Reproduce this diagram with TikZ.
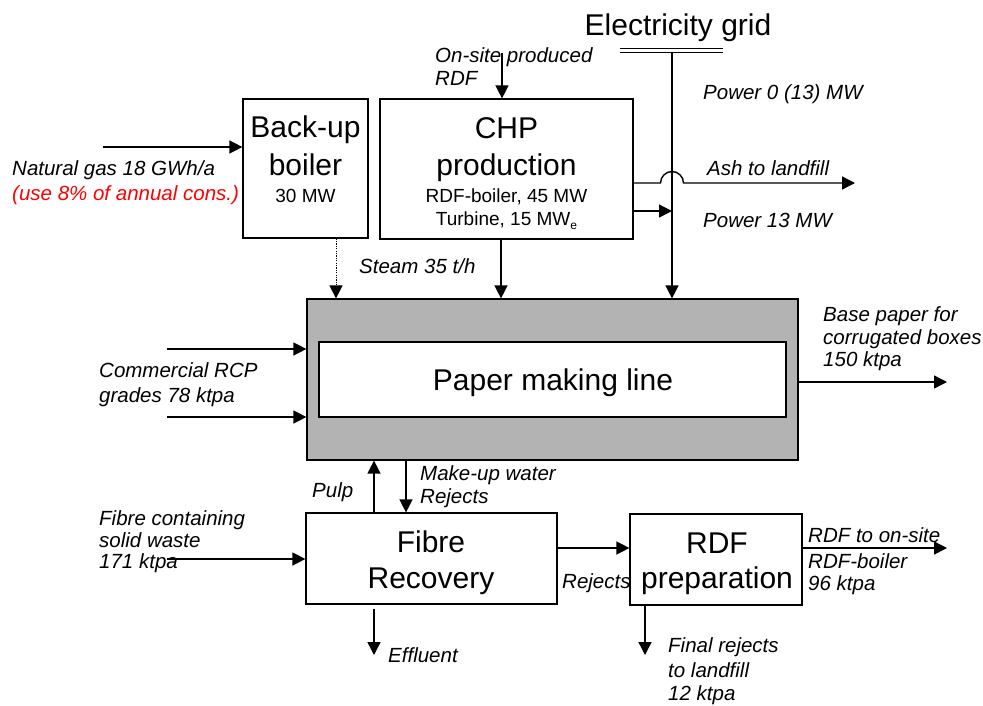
\documentclass[tikz,border=0pt]{standalone}
\usepackage{fontspec}
\setmainfont{Liberation Sans}
\usetikzlibrary{arrows.meta}
\definecolor{pmgray}{RGB}{179,179,179}
\begin{document}
\begin{tikzpicture}[x=1pt,y=-1pt,
  box/.style={draw,line width=1.2pt,inner sep=0pt,fill=white},
  flow/.style={line width=1.4pt,-{Triangle[length=13pt,width=13pt]}},
  big/.style={anchor=base,inner sep=0pt,font=\fontsize{30}{36}\selectfont},
  small/.style={anchor=base,inner sep=0pt,font=\fontsize{19}{23}\selectfont},
  lab/.style={anchor=base west,inner sep=0pt,font=\itshape\fontsize{20.5}{24}\selectfont}]
\useasboundingbox (0,0) rectangle (983,705);
% boxes
\node[box,minimum width=125pt,minimum height=139pt] (bb) at (305.5,168.5) {};
\node[box,minimum width=253pt,minimum height=140pt] (chp) at (506.5,169) {};
\node[box,fill=pmgray,minimum width=491pt,minimum height=161pt] (pm) at (552.5,379.5) {};
\node[box,minimum width=467pt,minimum height=75pt] (pmi) at (552.5,379.5) {};
\node[box,minimum width=251pt,minimum height=91pt] (fr) at (431.5,558.5) {};
\node[box,minimum width=172pt,minimum height=91pt] (rdf) at (716,559.5) {};
% box texts
\node[big] (t1) at (305.5,137) {Back-up};
\node[big] (t2) at (305.5,175) {boiler};
\node[small] (t3) at (305.5,202) {30 MW};
\node[big] (t4) at (506.5,138) {CHP};
\node[big] (t5) at (506.5,175) {production};
\node[small] (t6) at (506.5,202) {RDF-boiler, 45 MW};
\node[small] (t7) at (506.5,225) {Turbine, 15 MW\raisebox{-4pt}{\fontsize{12}{12}\selectfont e}};
\node[big] (t8) at (553,390) {Paper making line};
\node[big] (t9) at (431,552) {Fibre};
\node[big] (t10) at (431,588) {Recovery};
\node[big] (t11) at (717,553) {RDF};
\node[big] (t12) at (717,588) {preparation};
\node[big] (grid) at (678,35) {Electricity grid};
% helper coordinates
\coordinate (gas) at (103,147);
\coordinate (rdfin) at (502,53);
\coordinate (gl) at (620,50);
\coordinate (gr) at (723,50);
\coordinate (gx) at (672,52);
\coordinate (ashend) at (855,183);
\coordinate (steamx) at (336,0);
\coordinate (chpx) at (501,0);
\coordinate (rcp1) at (167,349);
\coordinate (rcp2) at (167,417);
\coordinate (bpend) at (947,382);
\coordinate (pulpx) at (374,0);
\coordinate (mkx) at (406,0);
\coordinate (fws) at (167,559);
\coordinate (rdfend) at (947,548);
\coordinate (finx) at (645,655);
% grid bar
\draw[line width=0.9pt] ([yshift=-2pt]gl) -- ([yshift=-2pt]gr);
\draw[line width=0.9pt] ([yshift=2pt]gl) -- ([yshift=2pt]gr);
% connectors
\draw[flow] (gas) -- (gas -| bb.west);
\draw[flow] (rdfin) -- (rdfin |- chp.north);
\draw[flow] (gx) -- (gx |- pm.north);
\draw[flow] (chp.east |- ashend) -- (660.5,183) arc[start angle=180,end angle=0,radius=11.5pt] -- (ashend);
\draw[flow] (633,211) -- (gx |- 0,211);
\draw[line width=1pt,dash pattern=on 1.2pt off 1.2pt,-{Triangle[length=13pt,width=13pt]}] (steamx |- bb.south) -- (steamx |- pm.north);
\draw[flow] (chpx |- chp.south) -- (chpx |- pm.north);
\draw[flow] (rcp1) -- (rcp1 -| pm.west);
\draw[flow] (rcp2) -- (rcp2 -| pm.west);
\draw[flow] (bpend -| pm.east) -- (bpend);
\draw[flow] (pulpx |- fr.north) -- (pulpx |- pm.south);
\draw[flow] (mkx |- pm.south) -- (mkx |- fr.north);
\draw[flow] (fws) -- (fws -| fr.west);
\draw[flow] ([yshift=-4pt]pulpx |- fr.south) -- (374,655);
\draw[flow] (fr.east |- 0,548) -- (rdf.west |- 0,548);
\draw[flow] (rdf.east |- rdfend) -- (rdfend);
\draw[flow] (finx |- rdf.south) -- (finx);
% labels
\node[lab] (l1) at (12,175) {Natural gas 18 GWh/a};
\node[lab,text=red] (l2) at (12,200) {(use 8\% of annual cons.)};
\node[lab] (l3) at (435,62) {On-site produced};
\node[lab] (l4) at (435,85) {RDF};
\node[lab] (l5) at (703,99) {Power 0 (13) MW};
\node[lab] (l6) at (707,175) {Ash to landfill};
\node[lab] (l7) at (703,227) {Power 13 MW};
\node[lab] (l8) at (359,273) {Steam 35 t/h};
\node[lab] (l9) at (99,377) {Commercial RCP};
\node[lab] (l10) at (99,402) {grades 78 ktpa};
\node[lab] (l11) at (823,321) {Base paper for};
\node[lab] (l12) at (823,344) {corrugated boxes};
\node[lab] (l13) at (823,366) {150 ktpa};
\node[lab] (l14) at (99,525) {Fibre containing};
\node[lab] (l15) at (99,547) {solid waste};
\node[lab] (l16) at (99,568) {171 ktpa};
\node[lab] (l17) at (312,497) {Pulp};
\node[lab] (l18) at (420,480) {Make-up water};
\node[lab] (l19) at (420,503) {Rejects};
\node[lab] (l20) at (562,588) {Rejects};
\node[lab] (l21) at (388,662) {Effluent};
\node[lab] (l22) at (808,542) {RDF to on-site};
\node[lab] (l23) at (808,568) {RDF-boiler};
\node[lab] (l24) at (808,590) {96 ktpa};
\node[lab] (l25) at (668,652) {Final rejects};
\node[lab] (l26) at (668,677) {to landfill};
\node[lab] (l27) at (668,700) {12 ktpa};
\end{tikzpicture}
\end{document}
